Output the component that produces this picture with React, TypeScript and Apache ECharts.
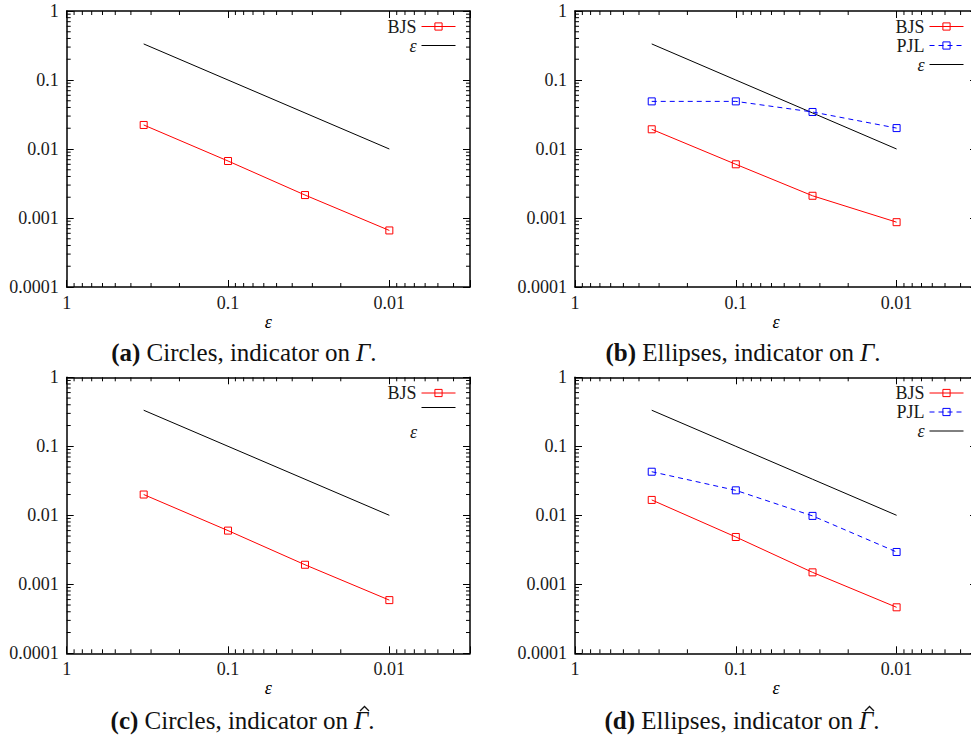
import React, { useEffect, useRef } from 'react';
import * as echarts from 'echarts';

// ---- data ----
const epsilonValues = [0.3333, 0.1, 0.03333, 0.01];
const referenceLine = [0.3333, 0.1, 0.03333, 0.01]; // y = ε

const bjsCirclesGamma = [0.0223, 0.0067, 0.00215, 0.00066];
const bjsEllipsesGamma = [0.0193, 0.006, 0.0021, 0.00087];
const pjlEllipsesGamma = [0.049, 0.049, 0.0344, 0.0201];
const bjsCirclesGammaHat = [0.02, 0.006, 0.00192, 0.00059];
const bjsEllipsesGammaHat = [0.0167, 0.00485, 0.00149, 0.000464];
const pjlEllipsesGammaHat = [0.0428, 0.023, 0.0098, 0.00294];

const xTickLabels = ['1', '0.1', '0.01'];
const yTickLabels = ['1', '0.1', '0.01', '0.001', '0.0001'];
const minorMantissas = [2, 3, 4, 5, 6, 7, 8, 9];
const xDecades = [0.1, 0.01, 0.001];
const yDecades = [0.1, 0.01, 0.001, 0.0001];

const captionLabels = ['(a)', '(b)', '(c)', '(d)'];
const captionTexts = [
  'Circles, indicator on',
  'Ellipses, indicator on',
  'Circles, indicator on',
  'Ellipses, indicator on',
];
const captionHat = [false, false, true, true];

const FONT = 'Liberation Serif';
const X_MIN = 0.0031623;
const X_MAX = 1;
const Y_MIN = 0.0001;
const Y_MAX = 1;

const xMinor: number[] = [];
xDecades.forEach((d) => minorMantissas.forEach((m) => {
  const v = +(m * d).toPrecision(3);
  if (v > X_MIN && v < X_MAX) xMinor.push(v);
}));
const yMinor: number[] = [];
yDecades.forEach((d) => minorMantissas.forEach((m) => {
  const v = +(m * d).toPrecision(3);
  if (v > Y_MIN && v < Y_MAX) yMinor.push(v);
}));

type PanelSeries = { name: string; data: number[] };
type Panel = {
  left: number; top: number; legendRight: number; legendTop: number;
  series: PanelSeries[]; legend: string[]; epsInLegend: boolean;
  gammaX: number; capY: number;
};

const GRID_W = 403.3;
const GRID_H = 276;

const panels: Panel[] = [
  { left: 66.7, top: 11, legendRight: 524, legendTop: 17.5, series: [{ name: 'BJS', data: bjsCirclesGamma }], legend: ['BJS', 'ε'], epsInLegend: true, gammaX: 356, capY: 352.6 },
  { left: 575, top: 11, legendRight: 16, legendTop: 17.5, series: [{ name: 'BJS', data: bjsEllipsesGamma }, { name: 'PJL', data: pjlEllipsesGamma }], legend: ['BJS', 'PJL', 'ε'], epsInLegend: true, gammaX: 860, capY: 352.6 },
  { left: 66.7, top: 377.3, legendRight: 524, legendTop: 384, series: [{ name: 'BJS', data: bjsCirclesGammaHat }], legend: ['BJS', 'ε'], epsInLegend: false, gammaX: 354, capY: 720 },
  { left: 575, top: 377.3, legendRight: 16, legendTop: 384, series: [{ name: 'BJS', data: bjsEllipsesGammaHat }, { name: 'PJL', data: pjlEllipsesGammaHat }], legend: ['BJS', 'PJL', 'ε'], epsInLegend: true, gammaX: 859, capY: 720 },
];

const seriesStyle: Record<string, any> = {
  BJS: { color: '#ff0000', type: 'solid' },
  PJL: { color: '#0000ff', type: [5, 4] },
};

const decadeLabel = (v: number, list: string[]) => {
  const e = Math.log10(v);
  if (Math.abs(e - Math.round(e)) > 1e-6) return '';
  const s = String(Math.pow(10, Math.round(e)));
  return list.indexOf(s) >= 0 ? s : '';
};

const CAP_SIZE = 25;

function buildOption() {
  const grid: any[] = [];
  const xAxis: any[] = [];
  const yAxis: any[] = [];
  const series: any[] = [];
  const legend: any[] = [];
  const graphic: any[] = [];

  const axisLine = { show: true, onZero: false, lineStyle: { color: '#000', width: 1.5 } };
  const tick = { show: true, inside: true, length: 7, lineStyle: { color: '#000', width: 1 } };
  const labelStyle = { fontFamily: FONT, fontSize: 18, color: '#1a1a1a' };

  panels.forEach((p, g) => {
    grid.push({ left: p.left, top: p.top, width: GRID_W, height: GRID_H });
    const xBase = { type: 'log', logBase: 10, min: X_MIN, max: X_MAX, inverse: true, gridIndex: g, splitLine: { show: false }, axisLine, axisTick: tick };
    const yBase = { type: 'log', logBase: 10, min: Y_MIN, max: Y_MAX, gridIndex: g, splitLine: { show: false }, axisLine, axisTick: tick };
    xAxis.push({
      ...xBase, position: 'bottom',
      axisLabel: { ...labelStyle, margin: 7, formatter: (v: number) => decadeLabel(v, xTickLabels) },
      name: 'ε', nameLocation: 'middle', nameGap: 19,
      nameTextStyle: { fontFamily: FONT, fontSize: 18, fontStyle: 'italic', color: '#000' },
    });
    xAxis.push({ ...xBase, position: 'top', axisLabel: { show: false } });
    yAxis.push({
      ...yBase, position: 'left',
      axisLabel: { ...labelStyle, margin: 8, formatter: (v: number) => decadeLabel(v, yTickLabels) },
    });
    yAxis.push({ ...yBase, position: 'right', axisLabel: { show: false } });

    const xi = 2 * g;
    const yi = 2 * g;

    // reference ε line
    series.push({
      type: 'line', name: 'ε', xAxisIndex: xi, yAxisIndex: yi, symbol: 'none',
      data: epsilonValues.map((x, i) => [x, referenceLine[i]]),
      lineStyle: { color: '#000', width: 1 },
      itemStyle: { color: '#000', borderColor: '#000', borderWidth: 1 },
      z: 3,
    });
    p.series.forEach((s) => {
      const st = seriesStyle[s.name];
      series.push({
        type: 'line', name: s.name, xAxisIndex: xi, yAxisIndex: yi,
        symbol: 'rect', symbolSize: 7,
        data: epsilonValues.map((x, i) => [x, s.data[i]]),
        lineStyle: { color: st.color, width: 1, type: st.type },
        itemStyle: { color: 'rgba(255,255,255,0)', borderColor: st.color, borderWidth: 1 },
        z: 4,
      });
    });

    // minor log ticks (all four sides)
    series.push({
      type: 'custom', xAxisIndex: xi, yAxisIndex: yi, silent: true, z: 5,
      data: xMinor.map((v) => [v, 1]),
      renderItem: (params: any, api: any) => {
        const cs = params.coordSys;
        const pt = api.coord([api.value(0), api.value(1)]);
        return {
          type: 'group', children: [
            { type: 'line', shape: { x1: pt[0], y1: cs.y + cs.height, x2: pt[0], y2: cs.y + cs.height - 4 }, style: { stroke: '#000', lineWidth: 1 } },
            { type: 'line', shape: { x1: pt[0], y1: cs.y, x2: pt[0], y2: cs.y + 4 }, style: { stroke: '#000', lineWidth: 1 } },
          ],
        };
      },
    });
    series.push({
      type: 'custom', xAxisIndex: xi, yAxisIndex: yi, silent: true, z: 5,
      data: yMinor.map((v) => [1, v]),
      renderItem: (params: any, api: any) => {
        const cs = params.coordSys;
        const pt = api.coord([api.value(0), api.value(1)]);
        return {
          type: 'group', children: [
            { type: 'line', shape: { x1: cs.x, y1: pt[1], x2: cs.x + 4, y2: pt[1] }, style: { stroke: '#000', lineWidth: 1 } },
            { type: 'line', shape: { x1: cs.x + cs.width, y1: pt[1], x2: cs.x + cs.width - 4, y2: pt[1] }, style: { stroke: '#000', lineWidth: 1 } },
          ],
        };
      },
    });

    legend.push({
      orient: 'vertical', right: p.legendRight, top: p.legendTop, align: 'right',
      itemWidth: 34, itemHeight: 9, itemGap: 1, padding: 0, selectedMode: false,
      data: p.legend.map((n) => (n === 'ε' ? { name: n, icon: 'line' } : { name: n })),
      formatter: (n: string) => (n === 'ε' ? (p.epsInLegend ? '{i|ε}' : '') : n),
      textStyle: {
        fontFamily: FONT, fontSize: 18, color: '#1a1a1a',
        rich: { i: { fontFamily: FONT, fontSize: 18, fontStyle: 'italic', color: '#1a1a1a' } },
      },
      lineStyle: { width: 1 },
      itemStyle: { borderWidth: 1 },
    });

    if (!p.epsInLegend) {
      graphic.push({
        type: 'text', x: p.left + GRID_W - 53, y: p.legendTop + 48,
        style: { text: 'ε', align: 'right', verticalAlign: 'middle', fontFamily: FONT, fontSize: 18, fontStyle: 'italic', fill: '#1a1a1a' },
      });
    }

    // caption: label part (right-aligned up to Γ), then Γ., then optional hat
    graphic.push({
      type: 'text', x: p.gammaX - 6, y: p.capY,
      style: {
        text: `{b|${captionLabels[g]}} ${captionTexts[g]}`,
        align: 'right', verticalAlign: 'middle',
        fontFamily: FONT, fontSize: CAP_SIZE, fill: '#111',
        rich: {
          b: { fontFamily: FONT, fontSize: CAP_SIZE, fontWeight: 'bold', fill: '#111' },
        },
      },
    });
    graphic.push({
      type: 'text', x: p.gammaX, y: p.capY,
      style: {
        text: '{i|\u0393}.',
        align: 'left', verticalAlign: 'middle',
        fontFamily: FONT, fontSize: CAP_SIZE, fill: '#111',
        rich: { i: { fontFamily: FONT, fontSize: CAP_SIZE, fontStyle: 'italic', fill: '#111' } },
      },
    });
    if (captionHat[g]) {
      graphic.push({
        type: 'polyline',
        shape: {
          points: [
            [p.gammaX + 6, p.capY - 9],
            [p.gammaX + 10.5, p.capY - 13.5],
            [p.gammaX + 15, p.capY - 9],
          ],
        },
        style: { stroke: '#111', lineWidth: 1.3, fill: 'none' },
      });
    }
  });

  return { animation: false, backgroundColor: '#fff', grid, xAxis, yAxis, series, legend, graphic };
}

export default function App() {
  const ref = useRef<HTMLDivElement>(null);
  useEffect(() => {
    if (!ref.current) return;
    const chart = echarts.init(ref.current, undefined, { renderer: 'svg' });
    chart.setOption(buildOption() as any);
    return () => chart.dispose();
  }, []);
  return (
    <div style={{ position: 'fixed', left: 0, top: 0, width: 971, height: 738, overflow: 'hidden', background: '#fff' }}>
      <div ref={ref} style={{ width: 980, height: 738 }} />
    </div>
  );
}
